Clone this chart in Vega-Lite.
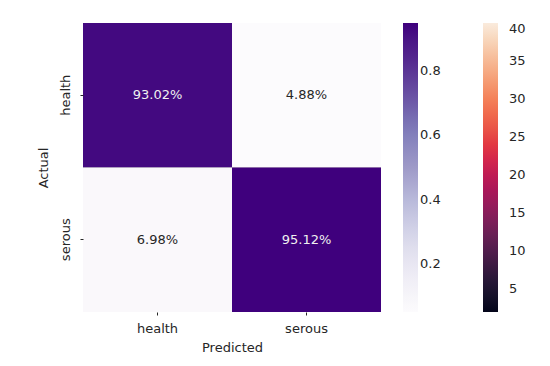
{
  "$schema": "https://vega.github.io/schema/vega-lite/v6.json",
  "autosize": {"type": "none"},
  "padding": {"left": 83, "top": 23, "right": 169, "bottom": 54},
  "width": 298,
  "height": 289,
  "background": "white",
  "config": {
    "view": {"stroke": null},
    "font": "DejaVu Sans",
    "axis": {"labelFont": "DejaVu Sans", "titleFont": "DejaVu Sans", "labelFontSize": 13, "titleFontSize": 13, "titleFontWeight": "normal", "labelColor": "#262626", "titleColor": "#262626", "domain": false, "grid": false, "tickColor": "#262626", "tickSize": 3},
    "legend": {"labelFont": "DejaVu Sans", "labelFontSize": 13, "labelColor": "#262626", "gradientLength": 289, "gradientThickness": 15, "padding": 0, "labelOffset": 10, "gradientStrokeWidth": 0}
  },
  "data": {
    "values": [
      {"actual": "health", "predicted": "health", "pct": 0.9302, "count": 40, "label": "93.02%"},
      {"actual": "health", "predicted": "serous", "pct": 0.0488, "count": 2, "label": "4.88%"},
      {"actual": "serous", "predicted": "health", "pct": 0.0698, "count": 3, "label": "6.98%"},
      {"actual": "serous", "predicted": "serous", "pct": 0.9512, "count": 39, "label": "95.12%"}
    ]
  },
  "encoding": {
    "x": {"field": "predicted", "type": "nominal", "title": "Predicted", "scale": {"paddingInner": 0, "paddingOuter": 0}, "axis": {"labelAngle": 0, "labelPadding": 7, "titlePadding": 6}},
    "y": {"field": "actual", "type": "nominal", "title": "Actual", "scale": {"paddingInner": 0, "paddingOuter": 0}, "axis": {"labelAngle": 270, "labelAlign": "center", "labelBaseline": "bottom", "labelPadding": 8, "titlePadding": 9}}
  },
  "layer": [
    {
      "mark": {"type": "rect"},
      "encoding": {
        "color": {"field": "count", "type": "quantitative", "scale": {"domain": [2, 40], "range": ["#03051a", "#35193e", "#701f57", "#ad1759", "#e13342", "#f37651", "#f6b48f", "#faebdd"]}, "legend": {"title": null, "orient": "none", "legendX": 400, "legendY": 0, "values": [5, 10, 15, 20, 25, 30, 35, 40], "format": "d", "direction": "vertical", "labelOffset": 11}}
      }
    },
    {
      "mark": {"type": "rect"},
      "encoding": {
        "color": {"field": "pct", "type": "quantitative", "scale": {"domain": [0.0488, 0.9512], "range": ["#fcfbfd", "#efedf5", "#dadaeb", "#bcbddc", "#9e9ac8", "#807dba", "#6a51a3", "#54278f", "#3f007d"]}, "legend": {"title": null, "orient": "none", "legendX": 320, "legendY": 0, "values": [0.2, 0.4, 0.6, 0.8], "format": ".1f", "direction": "vertical"}}
      }
    },
    {
      "mark": {"type": "text", "fontSize": 13, "font": "DejaVu Sans"},
      "encoding": {
        "text": {"field": "label"},
        "color": {"condition": {"test": "datum.pct > 0.5", "value": "#f0f0f0"}, "value": "#262626"}
      }
    }
  ],
  "resolve": {"scale": {"color": "independent"}}
}
